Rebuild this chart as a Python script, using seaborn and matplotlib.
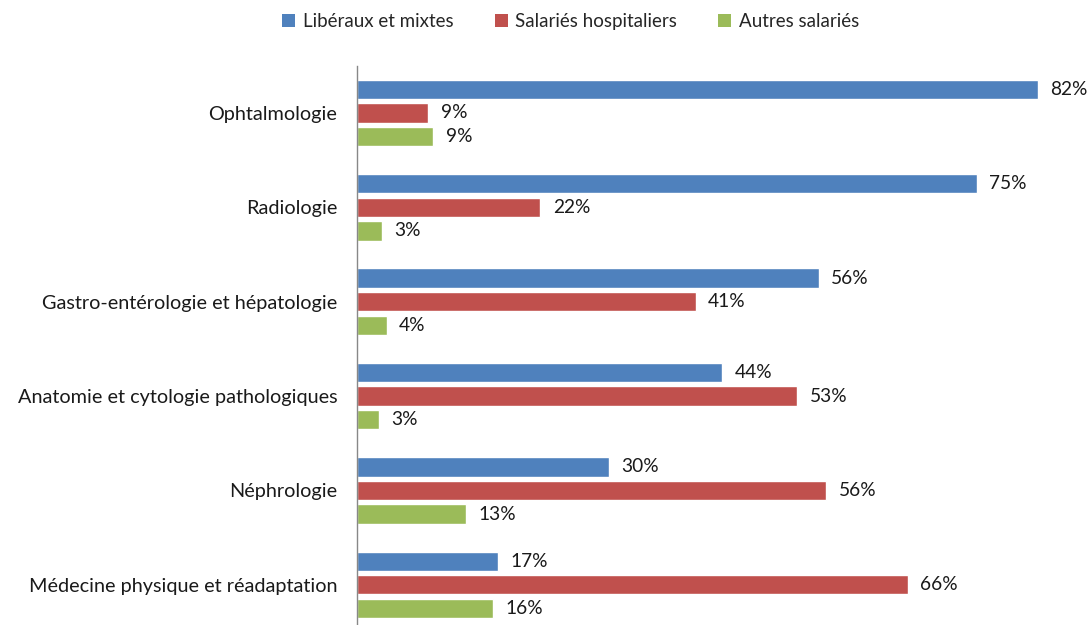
import matplotlib
matplotlib.use("Agg")
import matplotlib.pyplot as plt
import seaborn as sns
import pandas as pd
from matplotlib.patches import Patch

categories = ["Ophtalmologie", "Radiologie", "Gastro-entérologie et hépatologie",
              "Anatomie et cytologie pathologiques", "Néphrologie",
              "Médecine physique et réadaptation"]
series = ["Libéraux et mixtes", "Salariés hospitaliers", "Autres salariés"]
liberaux = [82.0, 74.6, 55.6, 44.0, 30.3, 17.0]
hospitaliers = [8.6, 22.1, 40.8, 53.0, 56.5, 66.3]
autres = [9.2, 3.0, 3.6, 2.7, 13.1, 16.4]
colors = ["#4F81BD", "#C0504D", "#9BBB59"]

rows = []
for s, vals in zip(series, [liberaux, hospitaliers, autres]):
    for c, v in zip(categories, vals):
        rows.append({"cat": c, "serie": s, "val": v})
df = pd.DataFrame(rows)

sns.set_style("white")
plt.rcParams["font.family"] = ["Lato", "DejaVu Sans"]

fig = plt.figure(figsize=(10.91, 6.25), dpi=100)
ax = fig.add_axes([0.327, -0.0112, 0.626, 0.906])
sns.barplot(data=df, y="cat", x="val", hue="serie", order=categories,
            hue_order=series, palette=colors, orient="h", width=0.75,
            gap=0.18, saturation=1, ax=ax, legend=False)

for cont in ax.containers:
    ax.bar_label(cont, labels=[f"{round(v):d}%" for v in cont.datavalues],
                 padding=9, fontsize=13.8, color="#1a1a1a", clip_on=False)

ax.set_xlim(0, 82.2)
ax.set_ylim(5.5, -0.5)
ax.set_xlabel("")
ax.set_ylabel("")
ax.set_xticks([])
ax.tick_params(axis="y", length=0, pad=14, labelsize=14.3, labelcolor="#1a1a1a")
for side in ["top", "right", "bottom"]:
    ax.spines[side].set_visible(False)
ax.spines["left"].set_color("#888888")
ax.spines["left"].set_linewidth(1.0)

handles = [Patch(facecolor=c, edgecolor="none") for c in colors]
fig.legend(handles, series, loc="center", bbox_to_anchor=(0.523, 0.965),
           ncol=3, frameon=False, fontsize=13.5, handlelength=0.7,
           handleheight=0.7, handletextpad=0.4, columnspacing=2.2)

fig.savefig("out.png", dpi=100)
